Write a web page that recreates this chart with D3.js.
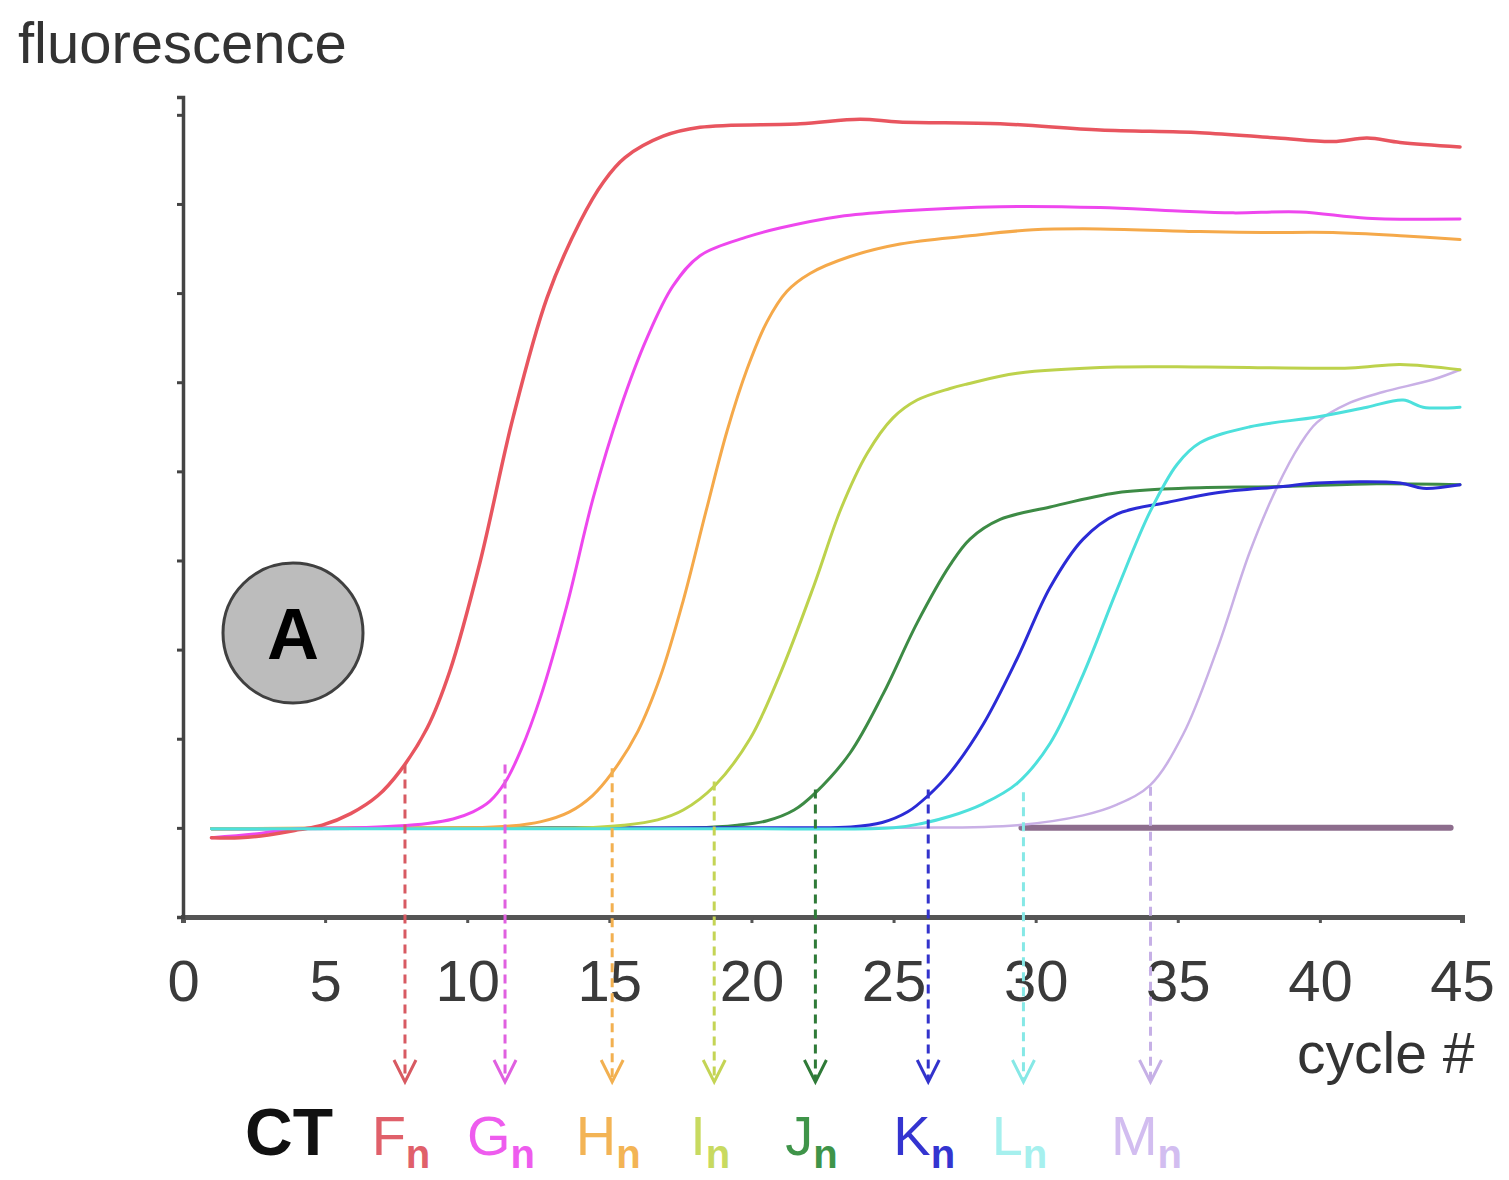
<!DOCTYPE html>
<html>
<head>
<meta charset="utf-8">
<script src="https://cdn.jsdelivr.net/npm/d3@7"></script>
<style>
  html, body { margin: 0; padding: 0; background: #fff; }
  svg { display: block; font-family: "Liberation Sans", Arial, sans-serif; }
</style>
</head>
<body>
<div id="chart"></div>
<script>
/* amplification curves, [cycle, fluorescence] */
const seriesF = [[1,0.89],[2,0.89],[3,0.92],[4.1,0.98],[4.9,1.03],[5.9,1.16],[6.85,1.36],[7.64,1.64],[8.59,2.12],[9.39,2.76],[10.45,3.98],[11.61,5.6],[12.81,6.95],[13.97,7.8],[14.8,8.25],[15.55,8.52],[16.89,8.76],[18.19,8.86],[21.71,8.9],[23.82,8.95],[25.2,8.92],[28.75,8.9],[32.27,8.83],[35.78,8.8],[38.5,8.74],[40.46,8.7],[41.66,8.74],[42.82,8.69],[44.93,8.64]];
const seriesG = [[1,0.89],[2.5,0.93],[4,0.99],[6,1.0],[7.5,1.02],[8.6,1.05],[9.5,1.1],[10.2,1.18],[10.8,1.3],[11.35,1.52],[11.9,1.88],[12.56,2.45],[13.51,3.5],[14.43,4.7],[15.38,5.7],[16.33,6.5],[17.24,7.08],[18.19,7.42],[19.85,7.63],[21.0,7.73],[23.1,7.86],[25.23,7.92],[28.75,7.97],[32.27,7.96],[35.0,7.92],[36.95,7.9],[39.3,7.91],[41.66,7.84],[44.93,7.83]];
const seriesH = [[1,0.99],[6,1.0],[10,1.0],[11.5,1.02],[12.6,1.07],[13.6,1.18],[14.4,1.36],[15.1,1.62],[16.0,2.08],[16.8,2.7],[17.6,3.55],[18.4,4.55],[19.14,5.45],[19.85,6.15],[20.55,6.68],[21.25,7.02],[22.06,7.22],[23.47,7.41],[25.23,7.55],[27.59,7.64],[29.91,7.71],[32.27,7.72],[35.78,7.69],[38.0,7.68],[40.46,7.68],[43.0,7.64],[44.93,7.6]];
const seriesI = [[1,0.99],[10,1.0],[14,1.0],[15.5,1.03],[16.7,1.09],[17.6,1.2],[18.7,1.47],[19.95,2.0],[21.0,2.72],[22.2,3.72],[23.15,4.58],[24.07,5.2],[24.98,5.6],[25.83,5.8],[26.99,5.93],[27.59,5.98],[29.35,6.1],[32.86,6.17],[36.0,6.17],[41.06,6.16],[42.82,6.2],[44.93,6.14]];
const seriesJ = [[1,0.99],[14,1.0],[18,1.0],[19.5,1.03],[20.55,1.08],[21.5,1.2],[22.24,1.39],[23.47,1.84],[24.63,2.5],[25.83,3.3],[26.99,3.95],[27.69,4.24],[28.75,4.46],[30.51,4.6],[32.86,4.76],[35.19,4.81],[38.7,4.83],[42,4.86],[44.93,4.85]];
const seriesK = [[1,0.99],[18,1.0],[22,1.0],[23.5,1.01],[24.6,1.06],[25.5,1.18],[26.21,1.36],[26.99,1.62],[28.15,2.16],[29.35,2.9],[30.51,3.7],[31.67,4.24],[32.86,4.52],[34.62,4.65],[36.38,4.76],[38.7,4.83],[39.9,4.87],[42.82,4.87],[43.63,4.81],[44.93,4.85]];
const seriesL = [[1,0.99],[10,0.99],[20,0.99],[25,1.0],[26.0,1.05],[26.99,1.13],[28.15,1.27],[29.35,1.5],[30.51,1.95],[31.67,2.72],[32.86,3.67],[34.03,4.55],[34.98,5.08],[35.78,5.32],[37.54,5.5],[39.9,5.61],[41.66,5.72],[42.93,5.8],[43.63,5.72],[44.93,5.72]];
const seriesM = [[1,0.99],[25,1.0],[29.35,1.03],[31.67,1.14],[32.86,1.26],[34.03,1.48],[35.19,2.05],[36.38,3.0],[37.54,4.1],[38.49,4.82],[39.3,5.3],[39.9,5.55],[41.06,5.77],[42.22,5.89],[43.98,6.03],[44.93,6.14]];
const seriesNTC = [[29.5,1.0],[44.6,1.0]];

/* threshold cycles (CT) and the level where each dashed drop starts */
const ctLetters = ["F", "G", "H", "I", "J", "K", "L", "M"];
const ctCycles = [7.81, 11.33, 15.1, 18.69, 22.25, 26.22, 29.57, 34.04];
const ctLevels = [1.71, 1.71, 1.67, 1.52, 1.43, 1.43, 1.4, 1.46];

const xTicks = [0, 5, 10, 15, 20, 25, 30, 35, 40, 45];
const yTicks = [0, 1, 2, 3, 4, 5, 6, 7, 8, 9];

const curveColors = ["#e8555f", "#ee47ee", "#f5a94a", "#bdd24c", "#3d8b45", "#2b2bd6", "#4de0dc", "#c9b0e6"];
const dashColors  = ["#d85a62", "#e060e0", "#f2b050", "#c4d455", "#2f7a38", "#3333cc", "#86e8e6", "#c6b0e6"];
const labelColors = ["#e0606a", "#ee5cee", "#f3b455", "#c8da60", "#3f9449", "#3434d0", "#a6f0ee", "#d2bdf0"];

const series = [
  {name: "NTC", data: seriesNTC, color: "#8d6d8d", width: 6},
  {name: "M", data: seriesM, color: curveColors[7], width: 2.5},
  {name: "J", data: seriesJ, color: curveColors[4], width: 3},
  {name: "K", data: seriesK, color: curveColors[5], width: 3},
  {name: "I", data: seriesI, color: curveColors[3], width: 3},
  {name: "H", data: seriesH, color: curveColors[2], width: 3},
  {name: "G", data: seriesG, color: curveColors[1], width: 3},
  {name: "F", data: seriesF, color: curveColors[0], width: 3.5},
  {name: "L", data: seriesL, color: curveColors[6], width: 3}
];

const W = 1509, H = 1180;

const x = d3.scaleLinear().domain([0, 45]).range([183, 1462]);
const y = d3.scaleLinear().domain([0, 9.2]).range([917, 97]);

const svg = d3.select("#chart").append("svg")
  .attr("width", W)
  .attr("height", H);

svg.append("rect").attr("width", W).attr("height", H).attr("fill", "#fff");

/* axes */
const xAxis = svg.append("g")
  .attr("transform", "translate(0 " + y(0) + ")")
  .call(d3.axisBottom(x).tickValues(xTicks).tickSize(6).tickPadding(37));
xAxis.select(".domain").attr("stroke", "#555").attr("stroke-width", 5);
xAxis.selectAll(".tick line").attr("stroke", "#555").attr("stroke-width", 3);
xAxis.selectAll(".tick text")
  .attr("fill", "#3a3a3a")
  .attr("font-size", 58)
  .attr("font-family", "Liberation Sans, Arial, sans-serif");

const yAxis = svg.append("g")
  .attr("transform", "translate(" + x(0) + " 0)")
  .call(d3.axisLeft(y).tickValues(yTicks).tickSize(6).tickFormat(""));
yAxis.select(".domain").attr("stroke", "#444").attr("stroke-width", 3.5);
yAxis.selectAll(".tick line").attr("stroke", "#444").attr("stroke-width", 3);

/* circled label */
const badge = svg.append("g").attr("transform", "translate(293 633)");
badge.append("circle").attr("r", 70).attr("fill", "#bcbcbc").attr("stroke", "#404040").attr("stroke-width", 3);
badge.append("text")
  .attr("text-anchor", "middle")
  .attr("y", 26)
  .attr("font-size", 72)
  .attr("font-weight", "bold")
  .attr("fill", "#000")
  .text("A");

/* curves */
const line = d3.line()
  .x(d => x(d[0]))
  .y(d => y(d[1]))
  .curve(d3.curveCatmullRom.alpha(0.5));

svg.append("g").selectAll("path")
  .data(series)
  .join("path")
  .attr("d", d => line(d.data))
  .attr("fill", "none")
  .attr("stroke", d => d.color)
  .attr("stroke-width", d => d.width)
  .attr("stroke-linejoin", "round")
  .attr("stroke-linecap", "round");

/* CT drops with arrows */
const arrowTip = 1082;
const ct = svg.append("g").selectAll("g")
  .data(ctCycles.map((c, i) => ({c, level: ctLevels[i], i})))
  .join("g");

ct.append("line")
  .attr("x1", d => x(d.c)).attr("x2", d => x(d.c))
  .attr("y1", d => y(d.level)).attr("y2", arrowTip - 2)
  .attr("stroke", d => dashColors[d.i])
  .attr("stroke-width", 3)
  .attr("stroke-dasharray", "9 6");

ct.append("path")
  .attr("d", d => "M" + (x(d.c) - 11) + "," + (arrowTip - 22) + "L" + x(d.c) + "," + arrowTip + "L" + (x(d.c) + 11) + "," + (arrowTip - 22))
  .attr("fill", "none")
  .attr("stroke", d => dashColors[d.i])
  .attr("stroke-width", 3);

const lab = ct.append("text")
  .attr("x", d => x(d.c) - 4)
  .attr("y", 1155)
  .attr("text-anchor", "middle")
  .attr("fill", d => labelColors[d.i])
  .attr("font-size", 56);
lab.append("tspan").text(d => ctLetters[d.i]);
lab.append("tspan")
  .attr("dy", 13)
  .attr("font-size", 40)
  .attr("font-weight", "bold")
  .text("n");

/* titles */
svg.append("text")
  .attr("x", 18).attr("y", 63)
  .attr("font-size", 58)
  .attr("fill", "#333")
  .text("fluorescence");

svg.append("text")
  .attr("x", 1297).attr("y", 1073)
  .attr("font-size", 57)
  .attr("fill", "#333")
  .text("cycle #");

svg.append("text")
  .attr("x", 245).attr("y", 1155)
  .attr("font-size", 66)
  .attr("font-weight", "bold")
  .attr("fill", "#111")
  .text("CT");
</script>
</body>
</html>
